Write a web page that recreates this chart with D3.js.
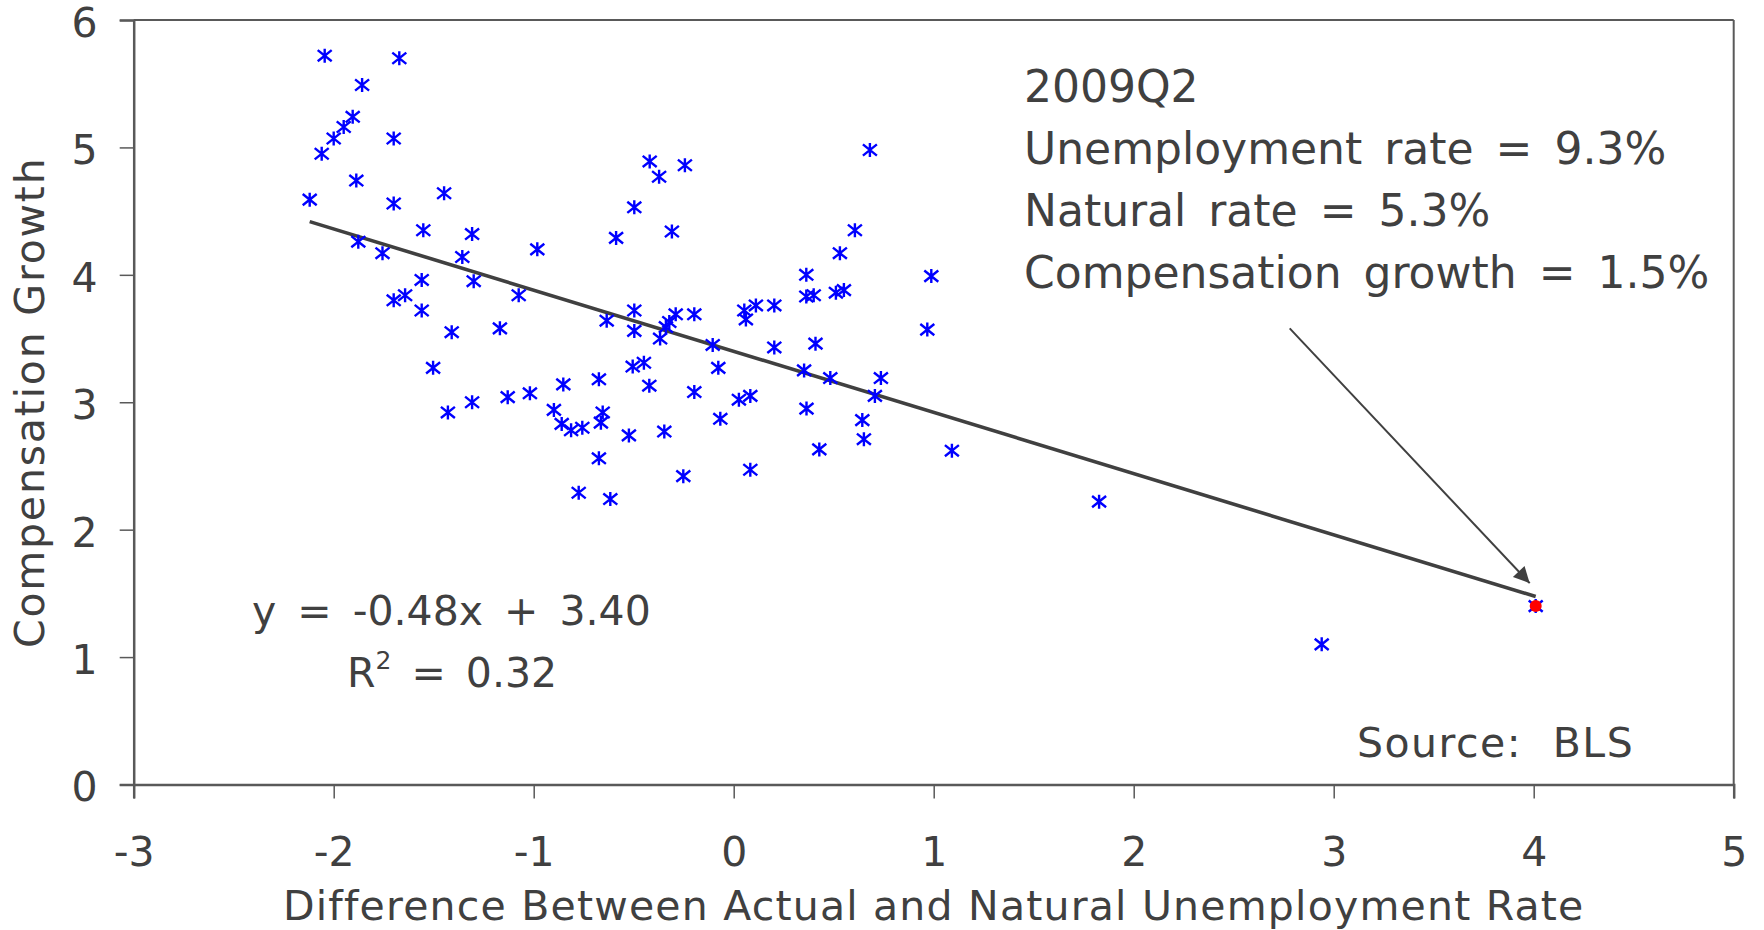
<!DOCTYPE html>
<html>
<head>
<meta charset="utf-8">
<script src="https://cdn.jsdelivr.net/npm/d3@7/dist/d3.min.js"></script>
<style>
html,body{margin:0;padding:0;background:#fff;}
svg{display:block;}
text{font-family:"DejaVu Sans",Verdana,sans-serif;fill:#404040;}
</style>
</head>
<body>
<svg id="chart" width="1764" height="930"></svg>
<script>
// ---- data ----
const gapX = [-2.12,-2.06,-2.045,-2.00,-1.95,-1.905,-1.887,-1.877,-1.858,-1.756,
  -1.70,-1.70,-1.70,-1.672,-1.643,-1.552,-1.56,-1.56,-1.503,-1.448,
  -1.429,-1.41,-1.357,-1.308,-1.30,-1.308,-1.169,-1.13,-1.075,-1.019,
  -0.982,-0.899,-0.852,-0.86,-0.813,-0.775,-0.757,-0.674,-0.674,-0.664,
  -0.655,-0.635,-0.617,-0.588,-0.524,-0.497,-0.497,-0.497,-0.505,-0.449,
  -0.42,-0.422,-0.373,-0.368,-0.347,-0.339,-0.322,-0.309,-0.29,-0.252,
  -0.244,-0.197,-0.197,-0.105,-0.077,-0.067,0.026,0.053,0.061,0.083,
  0.083,0.111,0.203,0.203,0.352,0.363,0.363,0.364,0.40,0.409,
  0.428,0.483,0.511,0.531,0.551,0.606,0.643,0.651,0.681,0.706,
  0.736,0.968,0.988,1.091,1.827,2.94,4.01];
const compGrowth = [4.59,4.95,5.72,5.07,5.16,5.24,4.74,4.26,5.49,4.17,
  5.07,4.56,3.80,5.70,3.84,4.35,3.96,3.72,3.27,4.64,
  2.92,3.55,4.14,4.32,3.95,3.00,3.58,3.04,3.84,3.07,
  4.20,2.94,3.14,2.83,2.78,2.29,2.80,3.18,2.56,2.84,
  2.92,3.64,2.24,4.29,2.74,4.53,3.72,3.56,3.28,3.31,
  4.89,3.13,4.77,3.50,2.77,3.59,3.63,4.34,3.69,2.42,
  4.86,3.08,3.69,3.45,3.27,2.87,3.02,3.72,3.65,3.05,
  2.47,3.76,3.76,3.43,3.25,4.00,3.83,2.95,3.84,3.46,
  2.63,3.19,3.86,4.17,3.88,4.35,2.86,2.71,4.98,3.05,
  3.19,3.57,3.99,2.62,2.22,1.10,1.40];
const highlight = {x: 4.01, y: 1.40};
const trendSlope = -0.48, trendIntercept = 3.40;
const trendRange = [-2.12, 4.01];
const xTicks = [-3,-2,-1,0,1,2,3,4,5];
const yTicks = [0,1,2,3,4,5,6];
const annLines = ["2009Q2","Unemployment rate = 9.3%","Natural rate = 5.3%","Compensation growth = 1.5%"];
const arrowFrom = [2.78, 3.58], arrowTo = [3.98, 1.58];

// ---- layout ----
const svg = d3.select("#chart");
const L = 133.7, R = 1733.7, T = 20, B = 784.5;
const x = d3.scaleLinear().domain([-3,5]).range([L,R]);
const y = d3.scaleLinear().domain([0,6]).range([B,T]);
const axisCol = "#595959";

// frame (top & right)
svg.append("line").attr("x1",L).attr("x2",R).attr("y1",T).attr("y2",T)
  .attr("stroke",axisCol).attr("stroke-width",2);
svg.append("line").attr("x1",R).attr("x2",R).attr("y1",T).attr("y2",B)
  .attr("stroke",axisCol).attr("stroke-width",2);

// axes
const fmt = d => String(d);
const xAxis = svg.append("g").attr("transform",`translate(0,${B})`)
  .call(d3.axisBottom(x).tickValues(xTicks).tickSize(14).tickPadding(38).tickFormat(fmt));
const yAxis = svg.append("g").attr("transform",`translate(${L},0)`)
  .call(d3.axisLeft(y).tickValues(yTicks).tickSize(14).tickPadding(22).tickFormat(fmt));
[xAxis,yAxis].forEach(g=>{
  g.select(".domain").attr("stroke",axisCol).attr("stroke-width",2.5);
  g.selectAll(".tick line").attr("stroke",axisCol).attr("stroke-width",1.5);
  g.selectAll(".tick text").attr("fill","#404040").style("font-size","41px")
    .style("font-family",'"DejaVu Sans",Verdana,sans-serif');
});
xAxis.selectAll(".tick text").attr("dy","0.71em");
yAxis.selectAll(".tick text").attr("dy","0.4em");

// axis titles
svg.append("text").attr("x",(L+R)/2).attr("y",920).attr("text-anchor","middle")
  .style("font-size","41px").style("letter-spacing","1.2px")
  .text("Difference Between Actual and Natural Unemployment Rate");
svg.append("text").attr("transform",`translate(44,${(T+B)/2}) rotate(-90)`)
  .attr("text-anchor","middle").style("font-size","41px").style("letter-spacing","1.8px")
  .text("Compensation Growth");

// trend line
svg.append("line")
  .attr("x1",x(trendRange[0])).attr("y1",y(trendSlope*trendRange[0]+trendIntercept))
  .attr("x2",x(trendRange[1])).attr("y2",y(trendSlope*trendRange[1]+trendIntercept))
  .attr("stroke","#404040").attr("stroke-width",3.6);

// points (asterisks)
const s = 7;
const star = `M0,${-s}L0,${s}M${-s},${-s*0.8}L${s},${s*0.8}M${-s},${s*0.8}L${s},${-s*0.8}`;
svg.append("g").selectAll("path").data(d3.range(gapX.length)).join("path")
  .attr("transform",i=>`translate(${x(gapX[i])},${y(compGrowth[i])})`)
  .attr("d",star).attr("stroke","#0000ff").attr("stroke-width",2.4).attr("fill","none");

// highlight point
svg.append("circle").attr("cx",x(highlight.x)).attr("cy",y(highlight.y)).attr("r",6)
  .attr("fill","#ff0000");

// arrow
svg.append("defs").append("marker").attr("id","ah").attr("viewBox","0 0 10 10")
  .attr("refX",10).attr("refY",5).attr("markerWidth",20).attr("markerHeight",16)
  .attr("markerUnits","userSpaceOnUse").attr("orient","auto")
  .append("path").attr("d","M0,0L10,5L0,10z").attr("fill","#404040");
svg.append("line").attr("x1",x(arrowFrom[0])).attr("y1",y(arrowFrom[1]))
  .attr("x2",x(arrowTo[0])).attr("y2",y(arrowTo[1]))
  .attr("stroke","#404040").attr("stroke-width",2).attr("marker-end","url(#ah)");

// annotation
const ann = svg.append("text").style("font-size","44px").style("word-spacing","8px");
annLines.forEach((t,i)=>{
  ann.append("tspan").attr("x",1024).attr("y",101.7+i*62).text(t);
});

// equation
svg.append("text").attr("x",252).attr("y",625).style("font-size","41px")
  .style("word-spacing","8px").text("y = -0.48x + 3.40");
const r2 = svg.append("text").attr("x",347).attr("y",687).style("font-size","41px")
  .style("word-spacing","7px");
r2.append("tspan").text("R");
r2.append("tspan").attr("dy",-18).style("font-size","25px").text("2");
r2.append("tspan").attr("dy",18).text(" = 0.32");

// source
svg.append("text").attr("x",1357).attr("y",757).style("font-size","41px")
  .style("letter-spacing","1.5px").style("word-spacing","16px").text("Source: BLS");
</script>
</body>
</html>
